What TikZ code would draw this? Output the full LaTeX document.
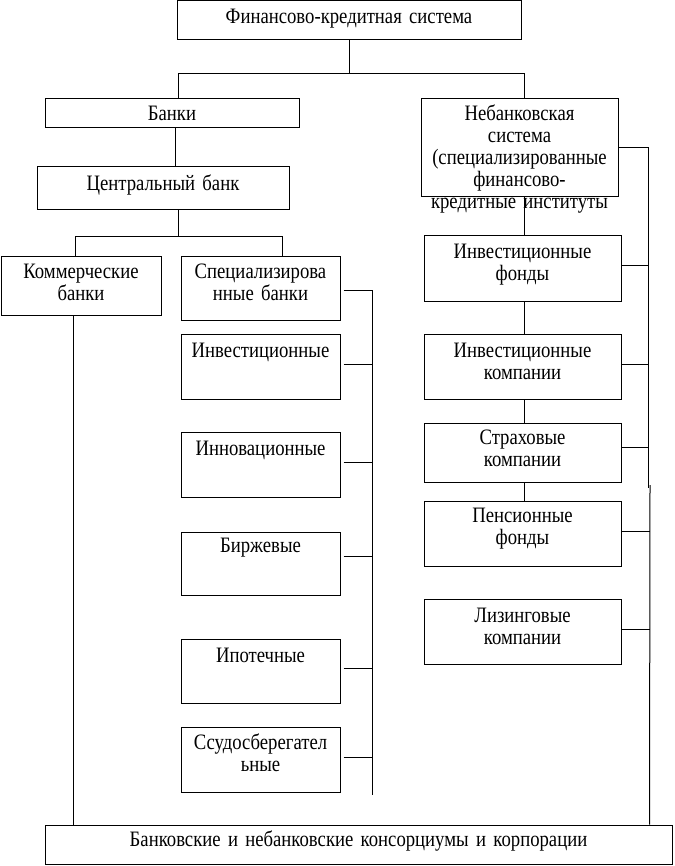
\documentclass[tikz,border=0pt]{standalone}
\usepackage{fontspec}
\setmainfont{Liberation Serif}[FakeStretch=0.85,WordSpace=0.75]
\begin{document}
\begin{tikzpicture}[x=1pt,y=-1pt,line width=1pt,
  box/.style={draw,rectangle,inner sep=0pt},
  txt/.style={anchor=base,align=center,inner sep=0pt,text width=600pt,
    font=\fontsize{22}{22}\selectfont}]
\useasboundingbox (0,0) rectangle (674,866);
% boxes
\node[box,minimum width=344pt,minimum height=39pt] (fks) at (349,20.5) {};
\node[box,minimum width=254pt,minimum height=29pt] (banki) at (172,113.5) {};
\node[box,minimum width=197pt,minimum height=98pt] (nebank) at (519.5,148) {};
\node[box,minimum width=252pt,minimum height=43pt] (cb) at (163,188.5) {};
\node[box,minimum width=160pt,minimum height=58pt] (komm) at (81,286) {};
\node[box,minimum width=159pt,minimum height=63pt] (spec) at (260.5,288.5) {};
\node[box,minimum width=159pt,minimum height=65pt] (inv) at (260.5,366.5) {};
\node[box,minimum width=159pt,minimum height=65pt] (innov) at (260.5,464.5) {};
\node[box,minimum width=159pt,minimum height=63pt] (birzh) at (260.5,563.5) {};
\node[box,minimum width=159pt,minimum height=64pt] (ipot) at (260.5,671) {};
\node[box,minimum width=159pt,minimum height=65pt] (ssud) at (260.5,759.5) {};
\node[box,minimum width=197pt,minimum height=65pt] (invf) at (522.5,268.5) {};
\node[box,minimum width=197pt,minimum height=65pt] (invk) at (522.5,366.5) {};
\node[box,minimum width=197pt,minimum height=59pt] (strah) at (522.5,452.5) {};
\node[box,minimum width=197pt,minimum height=65pt] (pens) at (522.5,533.5) {};
\node[box,minimum width=197pt,minimum height=65pt] (lizing) at (522.5,631.5) {};
\node[box,minimum width=627pt,minimum height=39pt] (bottom) at (358.5,844.5) {};
% texts
\node[txt] (t-fks) at ([yshift=-23pt]fks.north) {Финансово-кредитная система};
\node[txt] (t-banki) at ([yshift=-22pt]banki.north) {Банки};
\node[txt] (t-nebank) at ([yshift=-22pt]nebank.north) {Небанковская\\система\\(специализированные\\финансово-\\кредитные институты};
\node[txt] (t-cb) at ([yshift=-24pt]cb.north) {Центральный банк};
\node[txt] (t-komm) at ([yshift=-22pt]komm.north) {Коммерческие\\банки};
\node[txt] (t-spec) at ([yshift=-22pt]spec.north) {Специализирова\\нные банки};
\node[txt] (t-inv) at ([yshift=-24pt]inv.north) {Инвестиционные};
\node[txt] (t-innov) at ([yshift=-24pt]innov.north) {Инновационные};
\node[txt] (t-birzh) at ([yshift=-21pt]birzh.north) {Биржевые};
\node[txt] (t-ipot) at ([yshift=-24pt]ipot.north) {Ипотечные};
\node[txt] (t-ssud) at ([yshift=-23pt]ssud.north) {Ссудосберегател\\ьные};
\node[txt] (t-invf) at ([yshift=-23pt]invf.north) {Инвестиционные\\фонды};
\node[txt] (t-invk) at ([yshift=-24pt]invk.north) {Инвестиционные\\компании};
\node[txt] (t-strah) at ([yshift=-22pt]strah.north) {Страховые\\компании};
\node[txt] (t-pens) at ([yshift=-22pt]pens.north) {Пенсионные\\фонды};
\node[txt] (t-lizing) at ([yshift=-24pt]lizing.north) {Лизинговые\\компании};
\node[txt] (t-bottom) at ([yshift=-22pt]bottom.north) {Банковские и небанковские консорциумы и корпорации};
% connectors top
\draw (fks.south) -- ++(0,33) coordinate (j1);
\draw ([xshift=6pt]banki.north) |- (j1) -| ([xshift=4.5pt]nebank.north);
\draw ([xshift=3pt]banki.south) -- ([xshift=12pt]cb.north);
\draw ([xshift=15pt]cb.south) -- ++(0,26) coordinate (j2);
\draw ([xshift=-6pt]komm.north) |- (j2) -| ([xshift=21.5pt]spec.north);
\draw ([xshift=-8pt]komm.south) -- ([xshift=-285.5pt]bottom.north);
% left bar
\draw ([shift={(3,1.5)}]spec.east) -- ++(28.5,0) coordinate (lb1) -- ++(0,505) coordinate (lb2);
\draw ([shift={(3,-2.5)}]inv.east) -- ++(28.5,0);
\draw ([shift={(3,-2.5)}]innov.east) -- ++(28.5,0);
\draw ([shift={(3,-7.5)}]birzh.east) -- ++(28.5,0);
\draw ([shift={(3,-3)}]ipot.east) -- ++(28.5,0);
\draw ([shift={(3,-2.5)}]ssud.east) -- ++(28.5,0);
% right chain
\draw ([xshift=4.5pt]nebank.south) -- ([xshift=1.5pt]invf.north);
\draw ([xshift=1.5pt]invf.south) -- ([xshift=1.5pt]invk.north);
\draw ([xshift=1.5pt]invk.south) -- ([xshift=1.5pt]strah.north);
\draw ([xshift=1.5pt]strah.south) -- ([xshift=1.5pt]pens.north);
% right bar
\draw (nebank.east) -- ++(30,0) coordinate (rb1) -- ++(0,340) coordinate (rb2);
\draw ([shift={(1.5,-3)}]rb2) -- ([xshift=291pt]bottom.north);
\draw ([yshift=2.5pt]invf.east) -- ++(27,0);
\draw ([yshift=2.5pt]invk.east) -- ++(27,0);
\draw ([yshift=5.5pt]strah.east) -- ++(27,0);
\draw ([yshift=2.5pt]pens.east) -- ++(28.5,0);
\draw ([yshift=2.5pt]lizing.east) -- ++(28.5,0);
\end{tikzpicture}
\end{document}
